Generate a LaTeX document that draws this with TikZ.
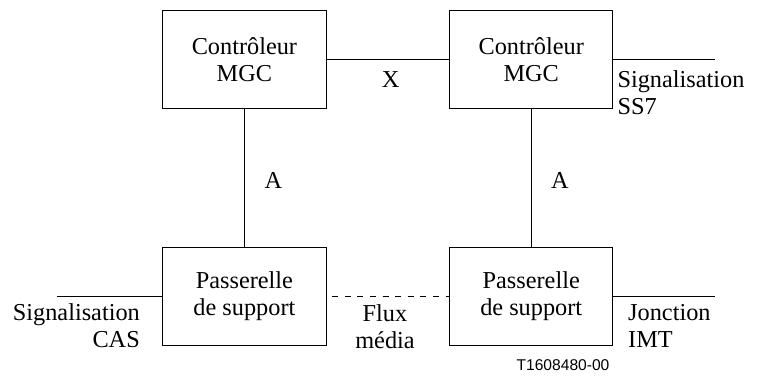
\documentclass[tikz,border=0pt]{standalone}
\usepackage{fontspec}
\setmainfont{Liberation Serif}
\newfontfamily\codefont{Liberation Sans}
\begin{document}
\begin{tikzpicture}[x=1pt,y=-1pt,
  box/.style={draw=black, line width=1pt, minimum width=163.3pt, minimum height=98.7pt,
    inner sep=0pt, align=center, font=\fontsize{24.3}{27}\selectfont},
  lbl/.style={inner sep=0pt, font=\fontsize{24.3}{27}\selectfont},
  wire/.style={line width=1pt},
  dashwire/.style={line width=1pt, dash pattern=on 6pt off 6.6pt, dash phase=6.9pt}]
\useasboundingbox (0,0) rectangle (765,376);
% boxes
\node[box] (tl) at (244.4,59.4) {Contrôleur\\MGC};
\node[box] (tr) at (531.2,59.4) {Contrôleur\\MGC};
\node[box] (bl) at (244.4,296.4) {Passerelle\\de support};
\node[box] (br) at (531.2,296.4) {Passerelle\\de support};
% free ends
\coordinate (ss7) at (715,59.4);
\coordinate (cas) at (56.7,296.4);
\coordinate (imt) at (715,296.4);
% connectors
\draw[wire] (tl) -- (tr);
\draw[wire] (tl) -- (bl);
\draw[wire] (tr) -- (br);
\draw[wire] (tr.east) -- (ss7);
\draw[wire] (bl.west) -- (cas);
\draw[wire] (br.east) -- (imt);
\draw[dashwire] (bl) -- (br);
% labels
\node[lbl] (x) at (390.7,79.3) {X};
\node[lbl] (a1) at (273.3,180) {A};
\node[lbl] (a2) at (560,180) {A};
\node[lbl, align=left, anchor=north west] (ss7lbl) at (617.3,70.4) {Signalisation\\SS7};
\node[lbl, align=right, anchor=north east] (caslbl) at (140,303.4) {Signalisation\\CAS};
\node[lbl, align=center, anchor=north] (flux) at (385,304.4) {Flux\\média};
\node[lbl, align=left, anchor=north west] (imtlbl) at (628,304.4) {Jonction\\IMT};
\node[inner sep=0pt, font=\codefont\fontsize{15.6}{18}\selectfont] (code) at (563,365) {T1608480-00};
\end{tikzpicture}
\end{document}
